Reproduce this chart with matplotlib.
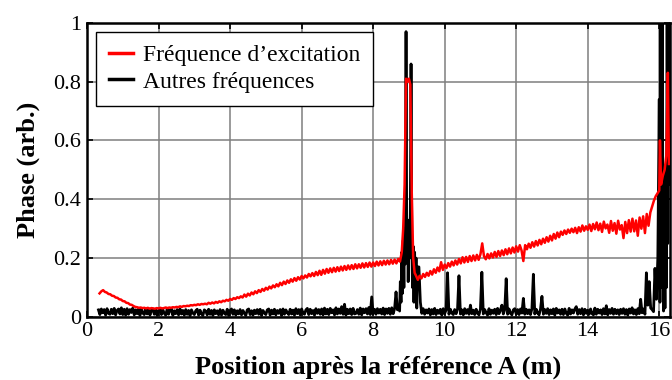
import numpy as np
import matplotlib
matplotlib.use("Agg")
import matplotlib.pyplot as plt

plt.rcParams['font.family'] = ['Liberation Serif', 'DejaVu Serif']

# Phase at the excitation frequency (red trace), in thousandths
red_y1 = [80, 87, 91, 85, 83, 78, 77, 72, 71, 66, 65, 60, 59, 54, 53, 48, 47, 42, 41, 37,
          34, 33, 31, 32, 30, 31, 29, 31, 28, 30, 29, 28, 30, 29, 31, 29, 30, 32, 30, 32,
          31, 33, 32, 34, 33, 36, 34, 37, 36, 38, 37, 40, 39, 41, 40, 43, 41, 44, 43, 45,
          43, 48, 45, 49, 46, 51, 48, 53, 50, 55, 53, 58, 55, 61, 58, 64, 61, 67, 64, 70,
          66, 76, 69, 79, 73, 83, 77, 87, 81, 91, 85, 95, 89, 99, 93, 103, 97, 107, 101, 111,
          104, 116, 108, 120, 112, 124, 116, 128, 120, 132, 123, 135, 127, 139, 131, 141, 134, 146, 138, 149,
          139, 153, 142, 157, 143, 160, 147, 163, 150, 165, 152, 167, 154, 169, 156, 171, 158, 173, 160, 175,
          162, 176, 163, 179, 165, 179, 167, 182, 168, 183, 170, 185, 171, 185, 173, 188, 175, 189, 176, 191,
          178, 192, 179, 194, 181, 195, 182, 197, 188]
red_x2 = [8.80, 8.84, 8.88, 8.92, 8.96, 9.00, 9.04, 9.08, 9.12, 9.16, 9.20]
red_y2 = [220, 300, 450, 810, 800, 810, 790, 420, 200, 150, 140]
red_y3 = [126, 140, 131, 146, 136, 150, 140, 156, 144, 162, 150, 168, 155, 186, 160, 178, 166, 183, 171, 188,
          175, 192, 178, 197, 182, 203, 185, 204, 187, 207, 190, 209, 192, 211, 194, 213, 250, 206, 196, 214,
          199, 216, 202, 221, 204, 224, 207, 226, 210, 230, 213, 233, 216, 236, 219, 240, 222, 244, 226, 190,
          244, 230, 249, 235, 254, 239, 258, 243, 262, 247, 266, 252, 271, 256, 276, 260, 282, 266, 287, 271,
          290, 279, 294, 282, 297, 286, 300, 288, 303, 285, 305, 290, 311, 293, 308, 296, 314, 292, 316, 298,
          321, 295, 317, 289, 324, 301, 314, 286, 326, 293, 319, 283, 327, 297, 312, 268, 323, 285, 329, 290,
          334, 291, 328, 276, 338, 300, 342, 285, 350, 310, 355, 375, 395, 410, 420]
red_x4 = [16.00, 16.02, 16.05, 16.10, 16.15, 16.20, 16.24, 16.26, 16.27]
red_y4 = [430, 600, 450, 480, 500, 550, 830, 600, 520]

# Phase at all other frequencies (black trace), in thousandths
blk_y1 = [24, 8, 27, 14, 25, 6, 28, 12, 9, 26, 11, 29, 7, 22, 27, 10, 31, 8, 26, 6,
          28, 9, 25, 15, 30, 7, 24, 11, 27, 5, 29, 13, 8, 26, 10, 28, 6, 23, 27, 9,
          25, 5, 22, 27, 8, 24, 12, 6, 26, 9, 23, 28, 5, 21, 11, 25, 7, 27, 10, 22,
          6, 25, 9, 22, 4, 24, 13, 8, 21, 26, 6, 23, 10, 5, 24, 20, 7, 26, 9, 22,
          5, 24, 11, 21, 7, 25, 6, 23, 12, 8, 26, 5, 22, 27, 9, 24, 6, 21, 10, 25,
          7, 22, 12, 5, 24, 27, 8, 21, 6, 23, 11, 25, 9, 26, 5, 22, 13, 8, 24, 27,
          6, 23, 10, 26, 7, 22, 12, 25, 5, 27, 9, 24, 14, 8, 26, 10, 23, 6, 28, 11,
          25, 7, 27, 13, 9, 24, 29, 8, 26, 11, 22, 6, 28, 12, 25, 9, 27, 7, 30, 10,
          26, 8, 29, 14, 24, 7, 31, 10, 27, 12, 35, 9, 43, 6, 26, 11, 27, 8, 29, 10,
          12, 25, 9, 30, 7, 27, 14, 28, 10, 32, 8, 68, 11, 26, 9, 28, 13, 26, 10, 30,
          8, 27, 12, 29, 9, 31, 11, 28, 85, 24, 30]
blk_x2 = [8.74, 8.76, 8.78, 8.80, 8.82, 8.84, 8.86, 8.88, 8.90, 8.92, 8.94, 8.96, 8.98,
          9.00, 9.02, 9.04, 9.06, 9.08, 9.10, 9.12, 9.14, 9.16, 9.18, 9.20, 9.22, 9.24]
blk_y2 = [20, 120, 50, 220, 80, 260, 100, 300, 180, 970, 250, 330, 120,
          300, 200, 350, 860, 280, 100, 240, 50, 220, 80, 200, 30, 170]
blk_y3 = [170, 50, 12, 28, 9, 24, 13, 27, 7, 25, 10, 29, 8, 23, 12, 26, 6, 28, 11, 24,
          150, 9, 26, 13, 8, 25, 11, 27, 140, 10, 24, 7, 28, 12, 25, 9, 40, 11, 23, 8,
          26, 12, 7, 27, 152, 10, 25, 14, 6, 28, 9, 23, 12, 26, 8, 29, 11, 24, 40, 10,
          25, 130, 9, 27, 12, 7, 24, 28, 10, 25, 8, 27, 13, 63, 9, 26, 11, 24, 8, 28,
          145, 10, 26, 13, 7, 27, 70, 9, 25, 12, 28, 8, 24, 11, 27, 6, 29, 13, 24, 9,
          26, 8, 27, 12, 6, 29, 10, 24, 13, 27, 35, 9, 25, 11, 28, 7, 26, 12, 23, 9,
          27, 11, 7, 30, 9, 26, 13, 24, 8, 28, 10, 38, 7, 25, 12, 29, 9, 26, 11, 24,
          8, 26, 12, 28, 9, 25, 6, 27, 13, 31, 10, 24, 8, 28, 11, 60, 14, 27, 9, 150,
          40, 120, 30, 25, 18, 165, 60]
blk_x4 = [15.96, 16.00, 16.02, 16.04, 16.06, 16.08, 16.10, 16.12, 16.14,
          16.16, 16.18, 16.20, 16.22, 16.24, 16.26, 16.28, 16.30]
blk_y4 = [200, 740, 50, 1050, 100, 1050, 400, 20, 300,
          30, 510, 100, 1050, 250, 1050, 450, 1050]

red_x = np.concatenate([np.linspace(0.35, 8.75, len(red_y1)), red_x2,
                        np.linspace(9.25, 15.95, len(red_y3)), red_x4])
red_y = np.concatenate([red_y1, red_y2, red_y3, red_y4]) / 1000.0
blk_x = np.concatenate([np.linspace(0.32, 8.72, len(blk_y1)), blk_x2,
                        np.linspace(9.28, 15.92, len(blk_y3)), blk_x4])
blk_y = np.concatenate([blk_y1, blk_y2, blk_y3, blk_y4]) / 1000.0

fig = plt.figure(figsize=(6.72, 3.8), dpi=100)
ax = fig.add_axes([0.1295, 0.166, 0.8675, 0.774])

l_blk, = ax.plot(blk_x, blk_y, color='black', lw=2.0, zorder=2)
l_red, = ax.plot(red_x, red_y, color='red', lw=1.8, zorder=3)

ax.set_xlim(0, 16.3)
ax.set_ylim(0, 1)
ax.set_xticks(np.arange(0, 17, 2))
ax.set_yticks([0, 0.2, 0.4, 0.6, 0.8, 1])
ax.set_yticklabels(['0', '0.2', '0.4', '0.6', '0.8', '1'])
ax.grid(True, color='#7f7f7f', lw=1.1)
ax.tick_params(direction='in', top=True, right=True, length=4, width=1.2,
               labelsize=16, pad=4)
for s in ax.spines.values():
    s.set_linewidth(1.8)

ax.set_xlabel('Position après la référence A (m)', fontsize=19, fontweight='bold', labelpad=10)
ax.set_ylabel('Phase (arb.)', fontsize=19, fontweight='bold', labelpad=10)

leg = ax.legend([l_red, l_blk], ['Fréquence d\u2019excitation', 'Autres fréquences'],
                loc='upper left', fontsize=17, fancybox=False, framealpha=1,
                edgecolor='black', handlelength=1.0, borderaxespad=0.38,
                labelspacing=0.2, handletextpad=0.45, borderpad=0.55)
leg.get_frame().set_linewidth(1.0)
for h in leg.get_lines():
    h.set_linewidth(2.5)

fig.savefig('out.png', dpi=100)
